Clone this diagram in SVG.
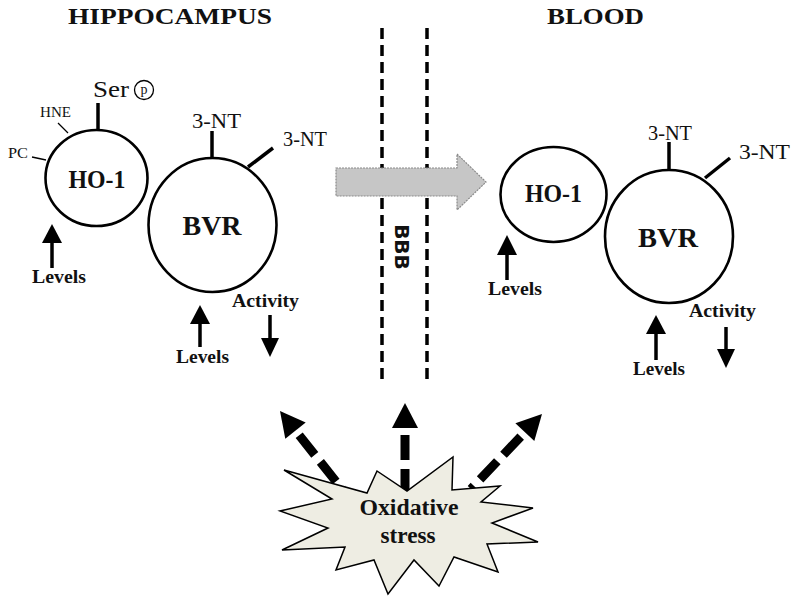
<svg xmlns="http://www.w3.org/2000/svg" width="800" height="605" viewBox="0 0 800 605">
<style>
.t{font-family:"Liberation Serif","Times New Roman",serif;fill:#111}
.b{font-weight:bold}
.c{fill:none;stroke:#000;stroke-width:2.6}
.stem{stroke:#000;stroke-width:3.5}
.thin{stroke:#000;stroke-width:1.3}
.shaft{stroke:#000;stroke-width:3.5}
.hd{fill:#000}
.bbb{stroke:#000;stroke-width:3.5;stroke-dasharray:11 6}
.da{stroke:#000;stroke-width:9;stroke-dasharray:25 9}
</style>
<rect width="800" height="605" fill="#fff"/>

<g id="titles">
<text class="t b" x="68" y="24" font-size="24" textLength="204" lengthAdjust="spacingAndGlyphs">HIPPOCAMPUS</text>
<text class="t b" x="547" y="24" font-size="24" textLength="97" lengthAdjust="spacingAndGlyphs">BLOOD</text>
</g>

<g id="bbb-barrier">
<line class="bbb" x1="382" y1="28" x2="382" y2="380"/>
<line class="bbb" x1="427" y1="28" x2="427" y2="380"/>
<text x="402" y="247" transform="rotate(90 402 247)" text-anchor="middle" dominant-baseline="central" font-family="DejaVu Sans,sans-serif" font-weight="bold" font-size="20" fill="#111">BBB</text>
</g>

<g id="connectors">
<polygon points="336,168 457,168 457,154 486,182 457,210 457,196 336,196" fill="#c6c6c6" stroke="#8a8a8a" stroke-width="1.2" stroke-dasharray="2 1"/>
<line class="da" x1="299.2" y1="435.3" x2="342" y2="489"/>
<polygon class="hd" points="280,411 305.7,422.5 285.3,438.7"/>
<line class="da" x1="405" y1="435" x2="405" y2="495"/>
<polygon class="hd" points="405,403 418,428 392,428"/>
<line class="da" x1="520.7" y1="436.6" x2="471" y2="489"/>
<polygon class="hd" points="542,414 534.3,441.1 515.4,423.3"/>
</g>

<g id="hippo-ho1">
<ellipse class="c" cx="96.5" cy="178" rx="51" ry="48"/>
<line class="stem" x1="98" y1="103" x2="98" y2="130"/>
<text class="t" x="93" y="97" font-size="24" textLength="36" lengthAdjust="spacingAndGlyphs">Ser</text>
<circle cx="144" cy="90" r="9.5" fill="none" stroke="#000" stroke-width="1.3"/>
<text class="t" x="144" y="94" font-size="14" text-anchor="middle">p</text>
<line class="thin" x1="58" y1="123" x2="68" y2="133"/>
<text class="t" x="40" y="117" font-size="14" textLength="31" lengthAdjust="spacingAndGlyphs">HNE</text>
<line class="thin" x1="32" y1="157" x2="46" y2="160"/>
<text class="t" x="8" y="158" font-size="14" textLength="20" lengthAdjust="spacingAndGlyphs">PC</text>
<text class="t b" x="97" y="188" font-size="25" text-anchor="middle" textLength="57" lengthAdjust="spacingAndGlyphs">HO-1</text>
<line class="shaft" x1="52" y1="240" x2="52" y2="268"/>
<polygon class="hd" points="52,224 62,243 42,243"/>
<text class="t b" x="32" y="283" font-size="18" textLength="54" lengthAdjust="spacingAndGlyphs">Levels</text>
</g>

<g id="hippo-bvr">
<ellipse class="c" cx="212.5" cy="225" rx="64" ry="67"/>
<line class="stem" x1="212" y1="131" x2="212" y2="158"/>
<text class="t" x="192" y="128" font-size="21" textLength="49" lengthAdjust="spacingAndGlyphs">3-NT</text>
<line class="stem" x1="248" y1="167" x2="273" y2="148"/>
<text class="t" x="283" y="146" font-size="21" textLength="44" lengthAdjust="spacingAndGlyphs">3-NT</text>
<text class="t b" x="212" y="235" font-size="27" text-anchor="middle" textLength="59" lengthAdjust="spacingAndGlyphs">BVR</text>
<line class="shaft" x1="200" y1="320" x2="200" y2="347"/>
<polygon class="hd" points="200,305 210,324 190,324"/>
<text class="t b" x="176" y="363" font-size="18" textLength="53" lengthAdjust="spacingAndGlyphs">Levels</text>
<text class="t b" x="232" y="307" font-size="18" textLength="67" lengthAdjust="spacingAndGlyphs">Activity</text>
<line class="shaft" x1="270" y1="315" x2="270" y2="340"/>
<polygon class="hd" points="270,357 279,338 261,338"/>
</g>

<g id="blood-ho1">
<ellipse class="c" cx="553.5" cy="194.5" rx="53" ry="47.5"/>
<text class="t b" x="553.5" y="202" font-size="25" text-anchor="middle" textLength="57" lengthAdjust="spacingAndGlyphs">HO-1</text>
<line class="shaft" x1="507" y1="251" x2="507" y2="280"/>
<polygon class="hd" points="507,235 517,255 497,255"/>
<text class="t b" x="488" y="295" font-size="18" textLength="54" lengthAdjust="spacingAndGlyphs">Levels</text>
</g>

<g id="blood-bvr">
<ellipse class="c" cx="669" cy="236.5" rx="64" ry="66.5"/>
<line class="stem" x1="669" y1="142" x2="669" y2="170"/>
<text class="t" x="648" y="140" font-size="21" textLength="44" lengthAdjust="spacingAndGlyphs">3-NT</text>
<line class="stem" x1="705" y1="178" x2="730" y2="158"/>
<text class="t" x="739" y="159" font-size="21" textLength="51" lengthAdjust="spacingAndGlyphs">3-NT</text>
<text class="t b" x="668" y="247" font-size="27" text-anchor="middle" textLength="60" lengthAdjust="spacingAndGlyphs">BVR</text>
<line class="shaft" x1="656" y1="330" x2="656" y2="360"/>
<polygon class="hd" points="656,315 666,334 646,334"/>
<text class="t b" x="633" y="375" font-size="18" textLength="52" lengthAdjust="spacingAndGlyphs">Levels</text>
<text class="t b" x="689" y="317" font-size="18" textLength="67" lengthAdjust="spacingAndGlyphs">Activity</text>
<line class="shaft" x1="726" y1="327" x2="726" y2="351"/>
<polygon class="hd" points="726,368 735,349 717,349"/>
</g>

<g id="oxidative-stress">
<polygon points="284,470 367,493 377,471 407,491 453,457 452,490 500,486 481,502 533,508 492,523 538,542 487,544 498,572 454,557 439,586 414,560 388,594 374,560 336,570 345,547 282,550 328,528 280,511 332,499" fill="#eeede3" stroke="#000" stroke-width="1.5" stroke-linejoin="miter"/>
<text class="t b" x="409" y="515" font-size="23" text-anchor="middle" textLength="99" lengthAdjust="spacingAndGlyphs">Oxidative</text>
<text class="t b" x="408" y="543" font-size="23" text-anchor="middle" textLength="55" lengthAdjust="spacingAndGlyphs">stress</text>
</g>
</svg>
